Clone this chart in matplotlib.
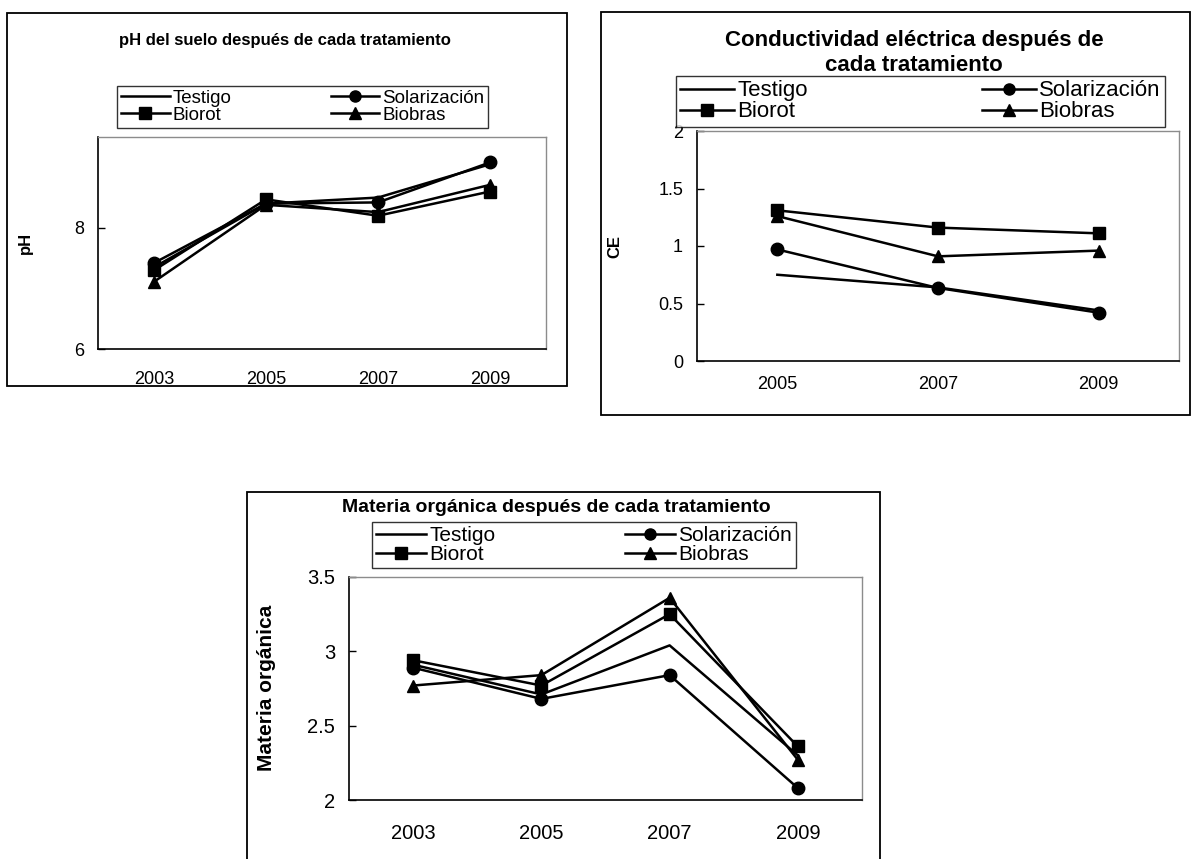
import matplotlib.pyplot as plt
from matplotlib.patches import Rectangle
from matplotlib.lines import Line2D

plt.rcParams['font.family'] = ['Liberation Sans', 'DejaVu Sans']

W, H = 1199, 859

# tratamientos y marcadores de cada serie
tratamientos = ['Testigo', 'Solarización', 'Biorot', 'Biobras']
marcadores = [None, 'o', 's', '^']

# pH del suelo
anios_ph = ['2003', '2005', '2007', '2009']
ph_testigo = [7.35, 8.40, 8.50, 9.05]
ph_solarizacion = [7.42, 8.40, 8.42, 9.08]
ph_biorot = [7.30, 8.47, 8.20, 8.60]
ph_biobras = [7.11, 8.38, 8.26, 8.71]

# conductividad eléctrica
anios_ce = ['2005', '2007', '2009']
ce_testigo = [0.75, 0.64, 0.44]
ce_solarizacion = [0.97, 0.635, 0.42]
ce_biorot = [1.31, 1.16, 1.11]
ce_biobras = [1.26, 0.91, 0.96]

# materia orgánica
anios_mo = ['2003', '2005', '2007', '2009']
mo_testigo = [2.91, 2.71, 3.04, 2.30]
mo_solarizacion = [2.89, 2.68, 2.84, 2.08]
mo_biorot = [2.94, 2.77, 3.25, 2.36]
mo_biobras = [2.77, 2.84, 3.36, 2.27]

fig = plt.figure(figsize=(W / 100, H / 100), dpi=100)


def caja(x0, y0, x1, y1):
    return [x0 / W, 1 - y1 / H, (x1 - x0) / W, (y1 - y0) / H]


def marco(x0, y0, x1, y1):
    fig.add_artist(Rectangle((x0 / W, 1 - y1 / H), (x1 - x0) / W, (y1 - y0) / H,
                             transform=fig.transFigure, fill=False,
                             edgecolor='black', linewidth=1.3))


def grafico(ejes, anios, series, ylim, yticks, ylabel, fs_tick, pad_x, ylabel_x):
    ax = fig.add_axes(caja(*ejes))
    x = list(range(len(anios)))
    for vals, m in zip(series, marcadores):
        ax.plot(x, vals, color='black', linewidth=1.8, marker=m, markersize=9,
                markerfacecolor='black', markeredgecolor='black')
    ax.set_xlim(-0.5, len(anios) - 0.5)
    ax.set_ylim(*ylim)
    ax.set_xticks(x, anios)
    ax.set_yticks(yticks, [f'{v:g}' for v in yticks])
    ax.tick_params(axis='x', length=0, pad=pad_x, labelsize=fs_tick)
    ax.tick_params(axis='y', direction='in', length=5, width=1, pad=10,
                   labelsize=fs_tick)
    for lado in ['top', 'right']:
        ax.spines[lado].set_color('#8c8c8c')
        ax.spines[lado].set_linewidth(1.0)
    for lado in ['left', 'bottom']:
        ax.spines[lado].set_color('black')
        ax.spines[lado].set_linewidth(1.2)
    ax.set_facecolor('white')
    fig.text(ylabel_x[0] / W, 1 - ylabel_x[1] / H, ylabel, rotation=90,
             ha='center', va='center', fontweight='bold', fontsize=ylabel_x[2])
    return ax


def leyenda(x0, y0, x1, y1, fs, hl):
    orden = [0, 2, 1, 3]
    handles = [Line2D([], [], color='black', linewidth=1.8, marker=marcadores[i],
                      markersize=8) for i in orden]
    labels = [tratamientos[i] for i in orden]
    leg = fig.legend(handles, labels, ncol=2, loc='upper left',
                     bbox_to_anchor=(x0 / W, 1 - y1 / H, (x1 - x0) / W, (y1 - y0) / H),
                     bbox_transform=fig.transFigure, mode='expand',
                     frameon=True, fancybox=False, edgecolor='black',
                     fontsize=fs, handlelength=hl, handletextpad=0.15,
                     labelspacing=0.0, borderpad=0.2, borderaxespad=0,
                     columnspacing=1.0)
    leg.get_frame().set_linewidth(1.0)
    return leg


# pH del suelo
marco(7, 13, 567, 386)
fig.text(285 / W, 1 - 40 / H, 'pH del suelo después de cada tratamiento',
         ha='center', va='center', fontweight='bold', fontsize=12)
grafico((98, 137, 546, 349), anios_ph,
        [ph_testigo, ph_solarizacion, ph_biorot, ph_biobras],
        (6, 9.5), [6, 8], 'pH', 13, 16, (25, 243, 12))
leyenda(117, 86, 488, 131, 13.5, 2.6)

# conductividad eléctrica
marco(601, 12, 1190, 415)
fig.text(914 / W, 1 - 53 / H, 'Conductividad eléctrica después de\ncada tratamiento',
         ha='center', va='center', fontweight='bold', fontsize=16,
         linespacing=1.2)
grafico((697, 131, 1179, 361), anios_ce,
        [ce_testigo, ce_solarizacion, ce_biorot, ce_biobras],
        (0, 2), [0, 0.5, 1, 1.5, 2], 'CE', 13, 11, (615, 246, 12))
leyenda(676, 76, 1165, 125, 16, 2.4)

# materia orgánica
marco(247, 492, 880, 870)
fig.text(556 / W, 1 - 508 / H, 'Materia orgánica después de cada tratamiento',
         ha='center', va='center', fontweight='bold', fontsize=14)
grafico((349, 577, 862, 800), anios_mo,
        [mo_testigo, mo_solarizacion, mo_biorot, mo_biobras],
        (2, 3.5), [2, 2.5, 3, 3.5], 'Materia orgánica', 14.5, 17, (267, 688, 15))
leyenda(372, 522, 796, 569, 15, 2.4)

fig.savefig('out.png', dpi=100)
